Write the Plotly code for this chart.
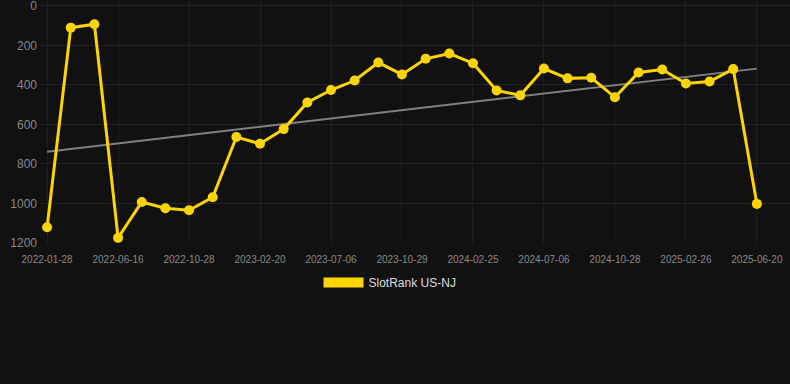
import numpy as np
import plotly.graph_objects as go

dates = ["2022-01-28", "2022-03-15", "2022-05-01", "2022-06-16", "2022-08-01",
         "2022-09-14", "2022-10-28", "2022-12-11", "2023-01-05", "2023-02-20",
         "2023-04-06", "2023-05-21", "2023-07-06", "2023-08-20", "2023-09-14",
         "2023-10-29", "2023-12-13", "2024-01-11", "2024-02-25", "2024-04-10",
         "2024-05-22", "2024-07-06", "2024-08-20", "2024-09-14", "2024-10-28",
         "2024-12-12", "2025-01-11", "2025-02-26", "2025-04-10", "2025-05-15",
         "2025-06-20"]
ranks = [1121, 110, 93, 1175, 993, 1025, 1035, 969, 664, 698,
         624, 489, 426, 378, 287, 347, 268, 241, 290, 428,
         453, 317, 367, 364, 463, 337, 322, 393, 383, 320,
         1003]
tick_labels = ["2022-01-28", "2022-06-16", "2022-10-28", "2023-02-20", "2023-07-06",
               "2023-10-29", "2024-02-25", "2024-07-06", "2024-10-28", "2025-02-26",
               "2025-06-20"]
y_ticks = [0, 200, 400, 600, 800, 1000, 1200]

idx = np.arange(len(ranks))
slope, intercept = np.polyfit(idx, ranks, 1)
trend = slope * idx + intercept

fig = go.Figure()
fig.add_trace(go.Scatter(
    x=dates, y=trend, mode="lines",
    line=dict(color="#808080", width=2),
    showlegend=False, hoverinfo="skip"))
fig.add_trace(go.Scatter(
    x=dates, y=ranks, mode="lines+markers",
    line=dict(color="#FFD400", width=3),
    marker=dict(color="#FFD400", size=10),
    showlegend=False, name="SlotRank US-NJ"))
fig.add_trace(go.Scatter(
    x=[None], y=[None], mode="lines",
    line=dict(color="#FFD400", width=12),
    name="SlotRank US-NJ", showlegend=True))

fig.update_layout(
    width=790, height=384,
    paper_bgcolor="#111111", plot_bgcolor="#111111",
    margin=dict(l=40, r=0, t=0, b=141),
    font=dict(family="Liberation Sans, Arial, sans-serif", color="#888888"),
    xaxis=dict(type="category", tickmode="array", tickvals=tick_labels,
               ticktext=tick_labels, range=[-0.3, 31.4],
               showgrid=True, gridcolor="#1e1e1e", zeroline=False,
               ticklabelstandoff=9,
               tickfont=dict(size=10, color="#888888"), showline=False),
    yaxis=dict(range=[1201, -30], tickvals=y_ticks, showgrid=True,
               gridcolor="#222222", zeroline=False, ticklabelstandoff=2,
               ticklabeloverflow="allow",
               tickfont=dict(size=12, color="#888888")),
    legend=dict(orientation="h", x=0.4667, xanchor="center", y=-0.103, yanchor="top",
                itemwidth=40,
                font=dict(size=12, color="#dddddd"), bgcolor="rgba(0,0,0,0)"),
)
fig.write_html("out.html", config={"displayModeBar": False},
               post_script="document.body.style.margin='0';document.body.style.background='#111111';")
